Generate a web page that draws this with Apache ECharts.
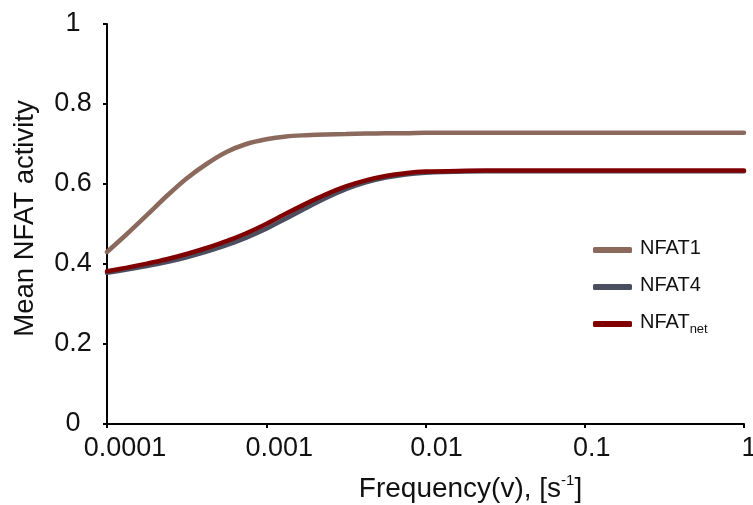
<!DOCTYPE html>
<html>
<head>
<meta charset="utf-8">
<script src="https://cdn.jsdelivr.net/npm/echarts@6/dist/echarts.min.js"></script>
<style>
  html, body { margin: 0; padding: 0; background: #fff; }
  #chart { width: 753px; height: 505px; }
</style>
</head>
<body>
<div id="chart"></div>
<script>
// Stimulation frequency (s^-1), eighth-decade steps up to 0.01, then coarser
const frequency = [
  0.0001, 0.0001334, 0.0001778, 0.0002371, 0.0003162, 0.0004217, 0.0005623, 0.0007499,
  0.001, 0.001334, 0.001778, 0.002371, 0.003162, 0.004217, 0.005623, 0.007499,
  0.01, 0.01778, 0.03162, 0.1, 0.3162, 1
];

// Mean activity of each NFAT isoform at those frequencies
const nfat1 = [
  0.430, 0.475, 0.522, 0.570, 0.614, 0.650, 0.680, 0.700,
  0.712, 0.719, 0.722, 0.724, 0.725, 0.726, 0.727, 0.727,
  0.728, 0.728, 0.728, 0.728, 0.728, 0.728
];
const nfat4 = [
  0.378, 0.386, 0.395, 0.405, 0.417, 0.431, 0.447, 0.466,
  0.488, 0.514, 0.540, 0.565, 0.587, 0.604, 0.616, 0.624,
  0.628, 0.631, 0.632, 0.632, 0.632, 0.632
];
const nfatNet = [
  0.382, 0.391, 0.401, 0.412, 0.425, 0.440, 0.457, 0.477,
  0.500, 0.526, 0.551, 0.574, 0.594, 0.609, 0.620, 0.627,
  0.631, 0.633, 0.634, 0.634, 0.634, 0.634
];

const xTickLabels = ['0.0001', '0.001', '0.01', '0.1', '1'];
const yTickLabels = ['0', '0.2', '0.4', '0.6', '0.8', '1'];

const seriesNames = ['NFAT1', 'NFAT4', 'NFATnet'];
const seriesColors = ['#8b6a5d', '#4a4e5f', '#800000'];
const seriesValues = [nfat1, nfat4, nfatNet];

const FONT = 'Liberation Sans, Arial, Helvetica, sans-serif';
const TEXT = '#111';

// x tick labels sit a little right of their ticks (left padding per label, px)
const xLabelShift = [36, 26, 22, 14, 10];
const xLabelRich = {};
xLabelShift.forEach((p, i) => {
  xLabelRich['t' + i] = { fontFamily: FONT, fontSize: 27, color: TEXT, padding: [0, 0, 0, p] };
});

const chart = echarts.init(document.getElementById('chart'), null, { renderer: 'canvas' });

const series = seriesNames.map((name, i) => ({
  name: name,
  type: 'line',
  data: frequency.map((f, k) => [f, seriesValues[i][k]]),
  smooth: 0.3,
  showSymbol: false,
  symbol: 'none',
  lineStyle: { color: seriesColors[i], width: 4.5, cap: 'round' },
  itemStyle: { color: seriesColors[i] },
  z: 2 + i
}));

chart.setOption({
  animation: false,
  backgroundColor: '#ffffff',
  grid: {
    left: 107, right: 9, top: 24, bottom: 81,
    containLabel: false,
    outerBoundsMode: 'none'
  },
  legend: {
    orient: 'vertical',
    left: 588,
    top: 233,
    icon: 'roundRect',
    itemWidth: 39,
    itemHeight: 6,
    itemGap: 17,
    data: seriesNames,
    textStyle: {
      fontFamily: FONT,
      fontSize: 20,
      color: TEXT,
      padding: [0, 0, 0, 3],
      rich: {
        a: { fontFamily: FONT, fontSize: 20, color: TEXT, lineHeight: 24, verticalAlign: 'top' },
        b: { fontFamily: FONT, fontSize: 13, color: TEXT, lineHeight: 13, verticalAlign: 'bottom' }
      }
    },
    formatter: function (name) {
      if (name === 'NFATnet') return '{a|NFAT}{b|net}';
      return '{a|' + name + '}';
    }
  },
  xAxis: {
    type: 'log',
    logBase: 10,
    min: 0.0001,
    max: 1,
    name: '{a|Frequency(v), [s}{s|-1}{a|]}',
    nameLocation: 'middle',
    nameGap: 49,
    nameTextStyle: {
      padding: [0, 0, 0, 90],
      rich: {
        a: { fontFamily: FONT, fontSize: 28, color: TEXT, lineHeight: 32, verticalAlign: 'middle' },
        s: { fontFamily: FONT, fontSize: 15, color: TEXT, lineHeight: 17, verticalAlign: 'top' }
      }
    },
    axisLine: { show: true, lineStyle: { color: '#000', width: 2 } },
    axisTick: { show: true, inside: false, length: 4, lineStyle: { color: '#000', width: 2 } },
    minorTick: { show: false },
    splitLine: { show: false },
    axisLabel: {
      fontFamily: FONT,
      fontSize: 27,
      color: TEXT,
      margin: 11,
      rich: xLabelRich,
      formatter: function (v) {
        const idx = Math.round(Math.log10(v)) + 4;
        return xTickLabels[idx] !== undefined ? '{t' + idx + '|' + xTickLabels[idx] + '}' : '';
      }
    }
  },
  yAxis: {
    type: 'value',
    min: 0,
    max: 1,
    interval: 0.2,
    name: 'Mean NFAT activity',
    nameLocation: 'middle',
    nameGap: 68,
    nameTextStyle: { fontFamily: FONT, fontSize: 27.5, color: TEXT, padding: [0, 0, 0, 11] },
    axisLine: { show: true, lineStyle: { color: '#000', width: 2 } },
    axisTick: { show: true, inside: false, length: 4, lineStyle: { color: '#000', width: 2 } },
    splitLine: { show: false },
    axisLabel: {
      fontFamily: FONT,
      fontSize: 27,
      color: TEXT,
      align: 'center',
      margin: 34,
      formatter: function (v) {
        const idx = Math.round(v * 5);
        return yTickLabels[idx] !== undefined ? yTickLabels[idx] : '';
      }
    }
  },
  series: series
});
</script>
</body>
</html>
